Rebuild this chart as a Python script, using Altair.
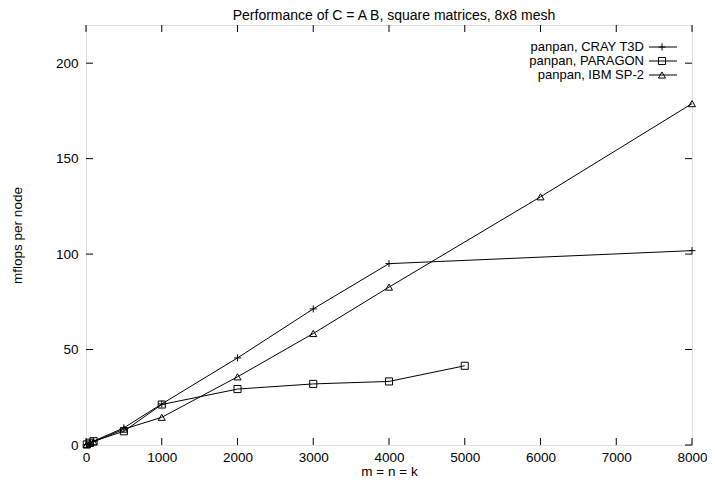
import altair as alt
import pandas as pd

# ---- data ----
series_names = ["panpan, CRAY T3D", "panpan, PARAGON", "panpan, IBM SP-2"]

cray_m = [10, 50, 100, 500, 1000, 2000, 3000, 4000, 8000]
cray_v = [0.2, 1.0, 2.0, 9.0, 21.5, 45.6, 71.3, 95.0, 101.8]

paragon_m = [10, 50, 100, 500, 1000, 2000, 3000, 4000, 5000]
paragon_v = [0.3, 1.2, 2.0, 7.2, 21.2, 29.3, 32.0, 33.3, 41.5]

ibm_m = [10, 50, 100, 500, 1000, 2000, 3000, 4000, 6000, 8000]
ibm_v = [0.2, 0.9, 1.6, 8.3, 14.5, 35.7, 58.4, 82.7, 130.0, 178.8]

x_ticks = [0, 1000, 2000, 3000, 4000, 5000, 6000, 7000, 8000]
y_ticks = [0, 50, 100, 150, 200]

PLUS = "M-1,0H1M0,-1V1"
shapes = [PLUS, "square", "triangle-up"]

W, H = 606, 420
FONT = "Liberation Sans"
FS = 13.5

rows = []
for name, ms, vs in [(series_names[0], cray_m, cray_v),
                     (series_names[1], paragon_m, paragon_v),
                     (series_names[2], ibm_m, ibm_v)]:
    for m, v in zip(ms, vs):
        rows.append({"series": name, "m": m, "v": v})
df = pd.DataFrame(rows)

xscale = alt.Scale(domain=[0, 8000], nice=False)
yscale = alt.Scale(domain=[0, 220], nice=False)

xaxis = alt.Axis(values=x_ticks, format="d", grid=False, domain=False, ticks=False,
                 labelPadding=5, labelFlush=False, labelFont=FONT, labelFontSize=FS,
                 labelColor="black", title="m = n = k", titleFont=FONT,
                 titleFontSize=FS, titleFontWeight="normal", titleColor="black",
                 titleX=W / 2, titleY=30, titleBaseline="alphabetic", titleAlign="center")
yaxis = alt.Axis(values=y_ticks, format="d", grid=False, domain=False, ticks=False,
                 labelPadding=8, labelFont=FONT, labelFontSize=FS, labelColor="black",
                 title="mflops per node", titleFont=FONT, titleFontSize=FS,
                 titleFontWeight="normal", titleColor="black", titleAngle=270,
                 titleX=-69, titleY=H / 2, titleBaseline="middle", titleAlign="center")

base = alt.Chart(df)

lines = base.mark_line(color="black", strokeWidth=1).encode(
    x=alt.X("m:Q", scale=xscale, axis=xaxis),
    y=alt.Y("v:Q", scale=yscale, axis=yaxis),
    detail="series:N",
)

points = base.mark_point(filled=False, color="black", strokeWidth=1, size=50, opacity=1).encode(
    x=alt.X("m:Q", scale=xscale),
    y=alt.Y("v:Q", scale=yscale),
    shape=alt.Shape("series:N", scale=alt.Scale(domain=series_names, range=shapes), legend=None),
)

# inward (gnuplot-style) mirror ticks
xt = pd.DataFrame({"t": x_ticks})
yt = pd.DataFrame({"t": y_ticks})
tick_len = 7
bottom_ticks = alt.Chart(xt).mark_rule(color="black", strokeWidth=1).encode(
    x=alt.X("t:Q", scale=xscale), y=alt.value(H), y2=alt.value(H - tick_len))
top_ticks = alt.Chart(xt).mark_rule(color="black", strokeWidth=1).encode(
    x=alt.X("t:Q", scale=xscale), y=alt.value(0), y2=alt.value(tick_len))
left_ticks = alt.Chart(yt).mark_rule(color="black", strokeWidth=1).encode(
    y=alt.Y("t:Q", scale=yscale), x=alt.value(0), x2=alt.value(tick_len))
right_ticks = alt.Chart(yt).mark_rule(color="black", strokeWidth=1).encode(
    y=alt.Y("t:Q", scale=yscale), x=alt.value(W), x2=alt.value(W - tick_len))

# manual legend (label left of sample, gnuplot style)
leg_layers = []
leg_y = [22, 36, 50]
lx = W - 48  # label right edge
for i, name in enumerate(series_names):
    ld = pd.DataFrame({"label": [name]})
    c = alt.Chart(ld)
    leg_layers.append(c.mark_text(align="right", baseline="middle", font=FONT,
                                  fontSize=13, color="black").encode(
        text="label:N", x=alt.value(lx), y=alt.value(leg_y[i])))
    leg_layers.append(c.mark_rule(color="black", strokeWidth=1).encode(
        x=alt.value(lx + 5), x2=alt.value(lx + 33), y=alt.value(leg_y[i])))
    leg_layers.append(c.mark_point(filled=False, color="black", strokeWidth=1, size=50,
                                   opacity=1, shape=shapes[i]).encode(
        x=alt.value(lx + 18), y=alt.value(leg_y[i])))

chart = alt.layer(lines, points, bottom_ticks, top_ticks, left_ticks, right_ticks,
                  *leg_layers).properties(
    width=W, height=H,
    title=alt.TitleParams("Performance of C = A B, square matrices, 8x8 mesh",
                          font=FONT, fontSize=14, fontWeight="normal", color="black",
                          anchor="middle", offset=2, dx=5),
    autosize=alt.AutoSizeParams(type="none"),
    padding={"left": 78, "top": 17, "right": 15, "bottom": 34},
).configure_view(stroke="black", strokeWidth=1).configure(background="white")

chart.save("out.html", embed_options={"renderer": "svg", "actions": False})
